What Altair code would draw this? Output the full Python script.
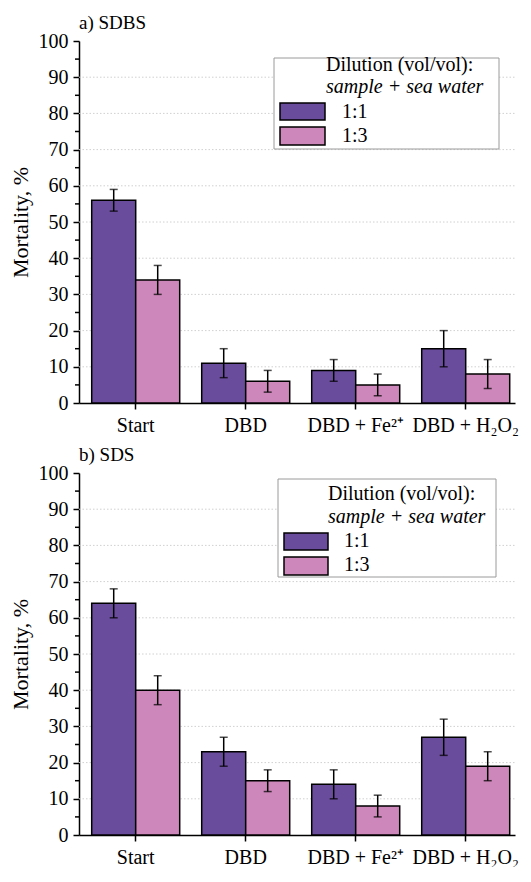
import altair as alt
import pandas as pd

# ---------------- data ----------------
conditions = ["Start", "DBD", "DBD + Fe²⁺", "DBD + H₂O₂"]
dilutions = ["1:1", "1:3"]
colors = ["#6a4c9c", "#cd87ba"]

sdbs_11 = [56, 11, 9, 15]
sdbs_11_err = [3, 4, 3, 5]
sdbs_13 = [34, 6, 5, 8]
sdbs_13_err = [4, 3, 3, 4]

sds_11 = [64, 23, 14, 27]
sds_11_err = [4, 4, 4, 5]
sds_13 = [40, 15, 8, 19]
sds_13_err = [4, 3, 3, 4]

y_ticks = list(range(0, 101, 10))
grid_values = list(range(10, 100, 10))
minor_values = list(range(5, 100, 10))

legend_title = "Dilution (vol/vol):"
legend_subtitle = "sample + sea water"

# ---------------- styling ----------------
SERIF = "Liberation Serif"
W, H = 436, 362


def make_df(v11, e11, v13, e13):
    rows = []
    for i, c in enumerate(conditions):
        rows.append(dict(cond=c, dil=dilutions[0], val=v11[i], lo=v11[i] - e11[i], hi=v11[i] + e11[i]))
        rows.append(dict(cond=c, dil=dilutions[1], val=v13[i], lo=v13[i] - e13[i], hi=v13[i] + e13[i]))
    return pd.DataFrame(rows)


xscale = alt.Scale(domain=conditions, paddingInner=0.2, paddingOuter=0.0818, align=0.706)
yscale = alt.Scale(domain=[0, 100], nice=False)
off_scale = alt.Scale(domain=dilutions, paddingInner=0, paddingOuter=0)
color_scale = alt.Scale(domain=dilutions, range=colors)

x_axis = alt.Axis(
    title=None, labelAngle=0, labelFont=SERIF, labelFontSize=20, labelColor="black",
    tickSize=6, tickColor="black", tickWidth=1.5, domainColor="black", domainWidth=1.5,
    labelPadding=6, grid=False,
)
y_axis = alt.Axis(
    title="Mortality, %", values=y_ticks, labelFont=SERIF, labelFontSize=20, labelColor="black",
    tickSize=6, tickColor="black", tickWidth=1.5, domainColor="black", domainWidth=1.5,
    labelPadding=5, grid=False, titleFont=SERIF, titleFontSize=22, titleFontWeight="normal",
    titleColor="black", titlePadding=6,
)

one = pd.DataFrame({"k": [0]})


def txt(text, x, y, italic=False, size=20):
    return alt.Chart(one).mark_text(
        text=text, align="left", baseline="alphabetic", font=SERIF, fontSize=size,
        fontStyle="italic" if italic else "normal", color="black",
    ).encode(x=alt.value(x), y=alt.value(y))


def rect(x0, x1, y0, y1, fill, stroke, sw):
    return alt.Chart(one).mark_rect(fill=fill, stroke=stroke, strokeWidth=sw).encode(
        x=alt.value(x0), x2=alt.value(x1), y=alt.value(y0), y2=alt.value(y1)
    )


def panel(df, title, leg):
    base = alt.Chart(df)
    xo = alt.XOffset("dil:N", scale=off_scale)
    X = alt.X("cond:N", scale=xscale, axis=x_axis)

    grid = alt.Chart(pd.DataFrame({"g": grid_values})).mark_rule(
        color="#d0d0d0", strokeWidth=1, strokeDash=[1.5, 2]
    ).encode(y=alt.Y("g:Q", scale=yscale, axis=y_axis), x=alt.value(0), x2=alt.value(W))

    minor = alt.Chart(pd.DataFrame({"m": minor_values})).mark_rule(
        color="black", strokeWidth=1.5
    ).encode(y=alt.Y("m:Q", scale=yscale, axis=y_axis), x=alt.value(-4), x2=alt.value(0))

    bars = base.mark_bar(stroke="black", strokeWidth=1.5).encode(
        x=X,
        xOffset=xo,
        y=alt.Y("val:Q", scale=yscale, axis=y_axis),
        color=alt.Color("dil:N", scale=color_scale, legend=None),
    )
    err = base.mark_rule(color="black", strokeWidth=1.5).encode(
        x=X, xOffset=xo,
        y=alt.Y("lo:Q", scale=yscale, axis=y_axis), y2="hi:Q",
    )
    cap_hi = base.mark_tick(color="black", size=8, thickness=1.5).encode(
        x=X, xOffset=xo,
        y=alt.Y("hi:Q", scale=yscale, axis=y_axis),
    )
    cap_lo = base.mark_tick(color="black", size=8, thickness=1.5).encode(
        x=X, xOffset=xo,
        y=alt.Y("lo:Q", scale=yscale, axis=y_axis),
    )

    bx0, bx1, by0, by1 = leg["box"]
    parts = [
        rect(bx0, bx1, by0, by1, "white", "#9a9a9a", 1),
        txt(legend_title, leg["tx"], leg["t1"]),
        txt(legend_subtitle, leg["tx"], leg["t2"], italic=True),
    ]
    for i, d in enumerate(dilutions):
        sy0, sy1 = leg["sym"][i]
        parts.append(rect(leg["sx"][0], leg["sx"][1], sy0, sy1, colors[i], "black", 1.5))
        parts.append(txt(d, leg["lx"], leg["lab"][i], size=20))

    return alt.layer(grid, minor, bars, err, cap_hi, cap_lo, *parts).properties(
        width=W, height=H,
        title=alt.TitleParams(
            text=title, anchor="start", frame="group", font=SERIF, fontSize=19,
            fontWeight="normal", color="black", offset=-2,
        ),
    )


leg_a = dict(box=(195, 420, 17, 108), tx=247, t1=30, t2=52, sym=[(62, 79), (86, 104)],
             sx=(201, 246), lx=263, lab=[77, 101])
leg_b = dict(box=(199, 417, 6, 104), tx=249, t1=27, t2=50, sym=[(60, 77), (84, 102)],
             sx=(205, 249), lx=265, lab=[74, 98])

pa = panel(make_df(sdbs_11, sdbs_11_err, sdbs_13, sdbs_13_err), "a) SDBS", leg_a)
pb = panel(make_df(sds_11, sds_11_err, sds_13, sds_13_err), "b) SDS", leg_b)

chart = alt.vconcat(pa, pb, spacing=11).configure_view(stroke=None).properties(
    padding={"left": 1, "top": 6, "right": 0, "bottom": 0}, background="white"
)

chart.save("out.html", embed_options={"renderer": "svg", "actions": False})
